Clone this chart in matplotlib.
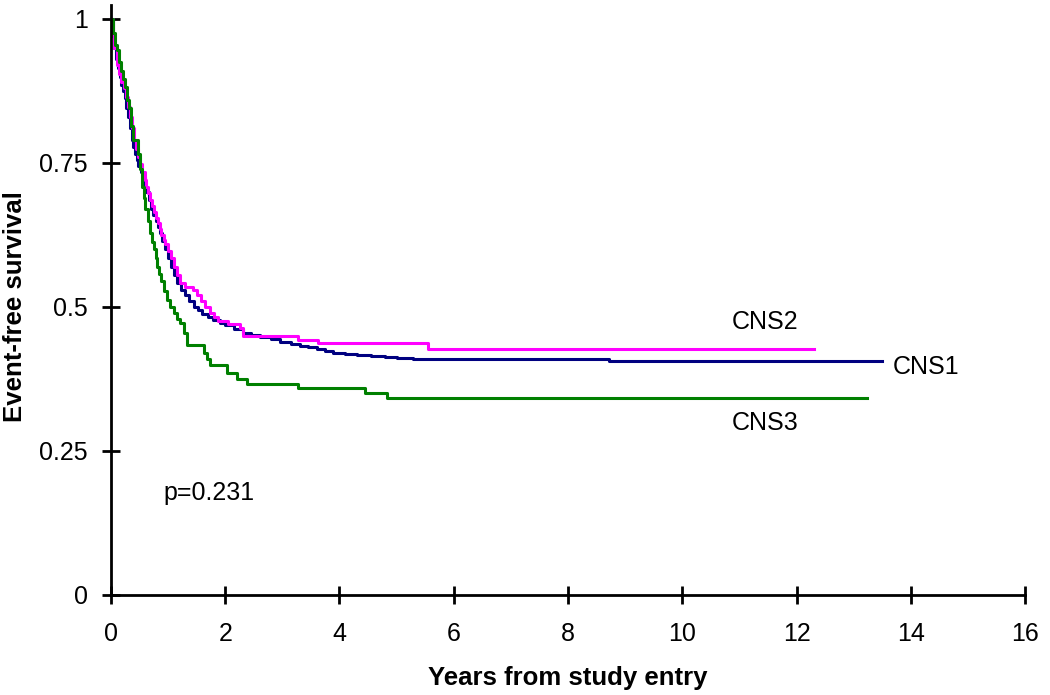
import matplotlib.pyplot as plt

plt.rcParams['font.family'] = ['Liberation Sans', 'DejaVu Sans']

# CNS1 (blue)
cns1_t = [0, 0.03, 0.06, 0.09, 0.12, 0.15, 0.18, 0.21, 0.24, 0.27, 0.3, 0.33, 0.36, 0.39, 0.42,
          0.45, 0.48, 0.52, 0.56, 0.59, 0.62, 0.66, 0.7, 0.74, 0.78, 0.82, 0.86, 0.9, 0.95, 1.0,
          1.05, 1.1, 1.15, 1.22, 1.3, 1.37, 1.45, 1.52, 1.6, 1.7, 1.79, 1.9, 2.0, 2.15, 2.31,
          2.45, 2.6, 2.8, 2.96, 3.15, 3.3, 3.45, 3.6, 3.75, 3.89, 4.1, 4.3, 4.55, 4.8, 5.0,
          5.29, 8.72, 13.5]
cns1_s = [1, 0.97, 0.95, 0.93, 0.915, 0.9, 0.885, 0.875, 0.862, 0.845, 0.83, 0.81, 0.79, 0.778,
          0.765, 0.755, 0.745, 0.735, 0.726, 0.712, 0.70, 0.685, 0.67, 0.66, 0.65, 0.638, 0.628,
          0.615, 0.60, 0.585, 0.57, 0.555, 0.541, 0.53, 0.52, 0.51, 0.50, 0.494, 0.488, 0.482,
          0.477, 0.472, 0.468, 0.461, 0.455, 0.452, 0.448, 0.444, 0.44, 0.436, 0.432, 0.43,
          0.427, 0.424, 0.42, 0.419, 0.417, 0.415, 0.413, 0.411, 0.409, 0.406, 0.406]

# CNS2 (magenta)
cns2_t = [0, 0.03, 0.06, 0.1, 0.14, 0.18, 0.22, 0.27, 0.3, 0.33, 0.37, 0.4, 0.44, 0.47, 0.51,
          0.55, 0.59, 0.62, 0.65, 0.68, 0.72, 0.75, 0.79, 0.82, 0.85, 0.88, 0.92, 0.95, 1.0,
          1.05, 1.1, 1.15, 1.21, 1.3, 1.44, 1.5, 1.58, 1.65, 1.73, 1.8, 1.87, 2.05, 2.26, 2.31,
          3.28, 3.63, 5.55, 12.31]
cns2_s = [1, 0.97, 0.95, 0.92, 0.905, 0.89, 0.88, 0.865, 0.848, 0.83, 0.81, 0.79, 0.775, 0.76,
          0.748, 0.735, 0.72, 0.709, 0.698, 0.686, 0.675, 0.665, 0.655, 0.645, 0.635, 0.625,
          0.617, 0.61, 0.598, 0.585, 0.57, 0.555, 0.541, 0.535, 0.53, 0.52, 0.51, 0.50, 0.49,
          0.482, 0.476, 0.47, 0.463, 0.45, 0.443, 0.437, 0.427, 0.427]

# CNS3 (green)
cns3_t = [0, 0.03, 0.07, 0.1, 0.14, 0.17, 0.21, 0.245, 0.28, 0.31, 0.35, 0.39, 0.45, 0.48, 0.51,
          0.54, 0.57, 0.6, 0.64, 0.68, 0.72, 0.75, 0.78, 0.8, 0.84, 0.88, 0.93, 0.975, 1.04,
          1.1, 1.15, 1.21, 1.27, 1.33, 1.56, 1.62, 1.68, 1.73, 1.98, 2.03, 2.2, 2.38, 3.28,
          4.45, 4.83, 13.23]
cns3_s = [1, 0.975, 0.955, 0.946, 0.925, 0.91, 0.895, 0.882, 0.86, 0.845, 0.815, 0.79, 0.79,
          0.765, 0.74, 0.709, 0.69, 0.67, 0.65, 0.628, 0.612, 0.6, 0.585, 0.57, 0.557, 0.545,
          0.528, 0.512, 0.5, 0.49, 0.48, 0.472, 0.455, 0.434, 0.434, 0.42, 0.41, 0.40, 0.40,
          0.385, 0.375, 0.367, 0.359, 0.351, 0.3425, 0.3425]

x_ticks = [0, 2, 4, 6, 8, 10, 12, 14, 16]
y_ticks = [0, 0.25, 0.5, 0.75, 1]
y_tick_labels = ['0', '0.25', '0.5', '0.75', '1']

fig = plt.figure(figsize=(10.5, 6.95), dpi=100)
ax = fig.add_axes([0.1057, 0.1439, 0.8705, 0.8288])

ax.step(cns1_t, cns1_s, where='post', color='#000080', lw=2.2)
ax.step(cns2_t, cns2_s, where='post', color='#ff00ff', lw=2.2)
ax.step(cns3_t, cns3_s, where='post', color='#008000', lw=2.2)

ax.set_xlim(0, 16)
ax.set_ylim(0, 1.0)
ax.set_xticks(x_ticks)
ax.set_yticks(y_ticks)
ax.set_yticklabels(y_tick_labels)

for side in ['top', 'right']:
    ax.spines[side].set_visible(False)
for side in ['left', 'bottom']:
    ax.spines[side].set_linewidth(2)
ax.spines['left'].set_bounds(0, 1.025)
ax.spines['left'].set_clip_on(False)
ax.tick_params(direction='inout', length=13, width=2, labelsize=18)
ax.tick_params(axis='x', pad=13)
ax.tick_params(axis='y', pad=10)

ax.set_xlabel('Years from study entry', fontsize=18.5, fontweight='bold', labelpad=14)
ax.set_ylabel('Event-free survival', fontsize=18.5, fontweight='bold')
ax.yaxis.set_label_coords(-0.092, 0.5)

ax.text(11.45, 0.474, 'CNS2', fontsize=18, ha='center', va='center')
ax.text(14.26, 0.396, 'CNS1', fontsize=18, ha='center', va='center')
ax.text(11.45, 0.299, 'CNS3', fontsize=18, ha='center', va='center')
ax.text(0.91, 0.177, 'p=0.231', fontsize=18, ha='left', va='center')

for line in ax.lines:
    line.set_clip_on(False)

plt.savefig('out.png', dpi=100, facecolor='white')
